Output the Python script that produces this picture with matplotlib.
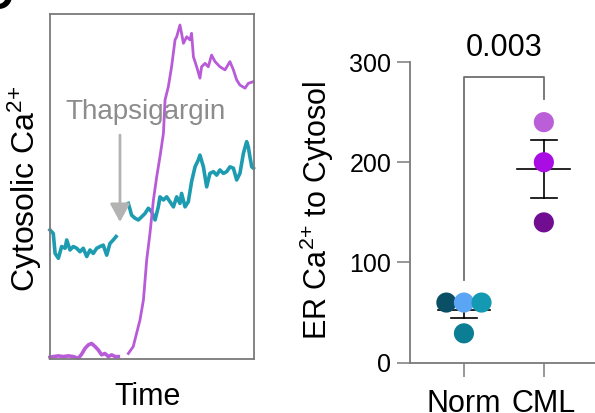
import matplotlib
matplotlib.use("Agg")
import matplotlib.pyplot as plt
import numpy as np

plt.rcParams["font.family"] = ["Liberation Sans", "DejaVu Sans"]
plt.rcParams["mathtext.fontset"] = "custom"
plt.rcParams["mathtext.rm"] = "Liberation Sans"

TEAL = "#1d9bb0"
PURPLE = "#b85bd8"
SPINE = "#7a7a7a"
ARROW = "#b3b3b3"
LABEL_GRAY = "#8c8c8c"

# ---- cytosolic Ca2+ traces (time 0-100, signal 0-100) ----
teal_pre_t = [0, 1.6, 2.5, 4.1, 5.7, 7.4, 8.2, 9.8, 11.4, 13.1, 14.7, 16.3, 18.0, 19.6,
              21.2, 22.9, 24.5, 26.1, 27.8, 29.4, 31.0, 32.4]
teal_pre_v = [37.4, 36.4, 30.6, 29.2, 32.6, 32.1, 34.5, 31.6, 32.6, 32.1, 31.1, 32.1, 29.7, 31.6,
              30.6, 32.1, 32.6, 33.0, 30.1, 33.5, 34.5, 35.5]
teal_post_t = [38.4, 40.0, 41.7, 43.3, 44.9, 46.6, 48.2, 49.8, 51.5, 53.1, 53.9, 55.6, 57.2, 58.8,
               60.5, 62.1, 63.7, 64.5, 66.2, 67.8, 69.4, 71.1, 72.7, 73.5, 75.2, 76.8, 78.4, 80.1,
               81.7, 83.3, 85.0, 86.6, 88.2, 89.9, 91.5, 93.1, 94.8, 96.4, 97.2, 98.0, 98.9, 99.7]
teal_post_v = [45.1, 41.7, 40.8, 40.3, 41.2, 42.2, 43.7, 42.7, 40.3, 44.1, 47.0, 46.1, 47.0, 45.6,
               44.1, 47.0, 45.1, 48.0, 44.1, 45.6, 51.4, 55.7, 57.7, 59.1, 55.7, 49.9, 53.8, 54.3,
               53.3, 54.8, 53.8, 54.3, 55.7, 55.3, 51.9, 53.8, 59.6, 63.0, 61.5, 58.6, 55.7, 55.3]
purple_pre_t = [0, 1.6, 4.1, 6.5, 9.0, 11.4, 13.9, 15.5, 17.2, 18.8, 20.4, 22.1, 23.7, 25.3,
                26.9, 28.6, 30.2, 31.9, 33.5]
purple_pre_v = [0.5, 0.7, 0.9, 0.7, 0.9, 0.7, 0.2, 1.4, 3.1, 4.1, 4.5, 3.6, 2.6, 1.2,
                1.6, 0.7, 1.2, 0.7, 0.7]
purple_post_t = [38.4, 40.8, 44.1, 45.8, 47.4, 49.0, 50.7, 52.3, 53.9, 55.6, 56.4, 58.0, 59.6,
                 61.3, 62.1, 63.7, 64.5, 65.4, 67.0, 68.6, 69.4, 70.3, 71.9, 73.5, 74.3, 76.0,
                 77.6, 79.2, 80.9, 83.3, 85.8, 88.2, 89.9, 91.5, 93.1, 95.6, 97.2, 99.7]
purple_post_v = [1.6, 3.6, 11.3, 17.1, 28.7, 36.4, 46.1, 52.8, 58.6, 65.4, 75.1, 78.9, 84.7,
                 92.5, 93.4, 96.8, 94.4, 91.5, 93.4, 92.5, 94.4, 87.6, 84.7, 81.4, 84.7, 85.7,
                 84.7, 88.1, 86.2, 84.7, 83.8, 86.2, 83.8, 80.9, 79.4, 78.5, 79.9, 80.4]

# ---- ER Ca2+ release per sample ----
groups = ["Norm", "CML"]
norm_vals = [60, 60, 60, 29.3]
norm_colors = ["#0b4f66", "#5aa6f5", "#1399b2", "#0c7e93"]
cml_vals = [240, 200, 140]
cml_colors = ["#bb5fd8", "#a90de3", "#700d91"]
p_value = "0.003"


def swarm_offsets(vals, step=0.22):
    # spread identical values side by side
    offs = []
    for i, v in enumerate(vals):
        same = [j for j, w in enumerate(vals) if w == v]
        k = same.index(i)
        offs.append((k - (len(same) - 1) / 2) * step)
    return offs


fig = plt.figure(figsize=(5.95, 4.13), dpi=100)

# left panel: traces
ax1 = fig.add_axes([50 / 595, 1 - 359 / 413, 204 / 595, 345 / 413])
ax1.plot(teal_pre_t, teal_pre_v, color=TEAL, lw=2.6, clip_on=False)
ax1.plot(teal_post_t, teal_post_v, color=TEAL, lw=2.6, clip_on=False)
ax1.plot(purple_pre_t, purple_pre_v, color=PURPLE, lw=2.6, clip_on=False)
ax1.plot(purple_post_t, purple_post_v, color=PURPLE, lw=2.0, clip_on=False)
ax1.set_xlim(0, 100)
ax1.set_ylim(0, 100)
ax1.set_xticks([])
ax1.set_yticks([])
for sp in ax1.spines.values():
    sp.set_color(SPINE)
    sp.set_linewidth(1.3)
ax1.annotate("", xy=(34.3, 39.7), xytext=(34.3, 64.9),
             arrowprops=dict(arrowstyle="-|>,head_length=0.55,head_width=0.3",
                             color=ARROW, lw=2, mutation_scale=20, shrinkA=0, shrinkB=0))
ax1.text(46.6, 71.6, "Thapsigargin", color=LABEL_GRAY, fontsize=20, ha="center", va="center")

fig.text(25 / 595, 1 - 189 / 413, r"Cytosolic Ca$\mathregular{^{2{+}}}$", fontsize=23,
         rotation=90, ha="center", va="center")
fig.text(148 / 595, 1 - 397 / 413, "Time", fontsize=22, ha="center", va="center")
fig.text(-0.028, 1.005, "D", fontsize=30, fontweight="bold", ha="left", va="center")

# right panel: scatter with mean +/- SEM
ax2 = fig.add_axes([410 / 595, 1 - 362.7 / 413, 185 / 595, 300.7 / 413])
for gi, (vals, cols) in enumerate([(norm_vals, norm_colors), (cml_vals, cml_colors)]):
    vals = np.array(vals)
    mean = vals.mean()
    sem = vals.std(ddof=1) / np.sqrt(len(vals))
    ax2.plot([gi - 0.33, gi + 0.33], [mean, mean], color="black", lw=1.2, zorder=2)
    ax2.plot([gi, gi], [mean - sem, mean + sem], color="black", lw=1.2, zorder=2)
    for y in (mean - sem, mean + sem):
        ax2.plot([gi - 0.165, gi + 0.165], [y, y], color="black", lw=1.2, zorder=2)
    offs = swarm_offsets(list(vals))
    ax2.scatter(gi + np.array(offs), vals, s=210, c=cols, edgecolors="none", zorder=3,
                clip_on=False)

# significance bracket
ax2.plot([0, 0, 1, 1], [82.5, 285, 285, 263], color="#6e6e6e", lw=1.3, clip_on=False)
ax2.text(0.5, 314, p_value, fontsize=22, ha="center", va="center")

ax2.set_xlim(-0.675, 1.64)
ax2.set_ylim(0, 300)
ax2.set_yticks([0, 100, 200, 300])
ax2.set_xticks([0, 1])
ax2.set_xticklabels(groups)
ax2.tick_params(axis="y", labelsize=18, length=9.5, width=1.1, color=SPINE, pad=4)
ax2.tick_params(axis="x", labelsize=22, length=10, width=1.1, color=SPINE, pad=9)
ax2.spines["top"].set_visible(False)
ax2.spines["right"].set_visible(False)
for s in ("left", "bottom"):
    ax2.spines[s].set_color(SPINE)
    ax2.spines[s].set_linewidth(1.3)
fig.text(317 / 595, 1 - 210 / 413, r"ER Ca$\mathregular{^{2{+}}}$ to Cytosol", fontsize=22,
         rotation=90, ha="center", va="center")

fig.savefig("out.png", dpi=100)
